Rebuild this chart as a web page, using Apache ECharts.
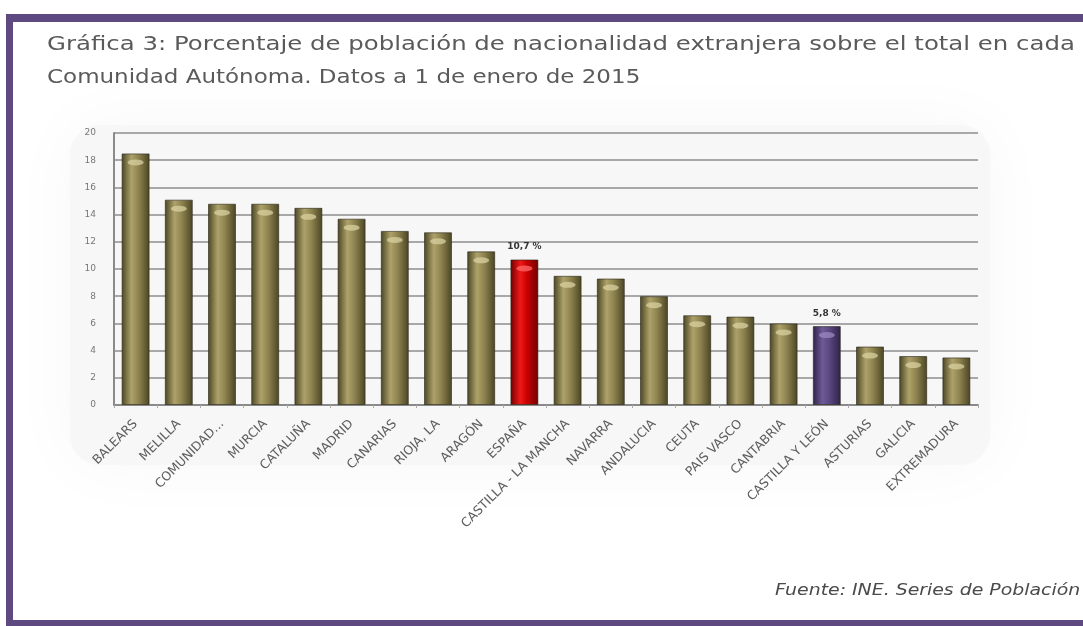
<!DOCTYPE html>
<html>
<head>
<meta charset="utf-8">
<script src="https://cdn.jsdelivr.net/npm/echarts@6/dist/echarts.min.js"></script>
<style>
  html, body { margin: 0; padding: 0; background: #ffffff; }
  #chart { width: 1083px; height: 626px; }
</style>
</head>
<body>
<div id="chart"></div>
<script>
// Foreign-nationality population share by autonomous community, 1 Jan 2015
const categories = [
  'BALEARS', 'MELILLA', 'COMUNIDAD...', 'MURCIA', 'CATALUÑA', 'MADRID',
  'CANARIAS', 'RIOJA, LA', 'ARAGÓN', 'ESPAÑA', 'CASTILLA - LA MANCHA',
  'NAVARRA', 'ANDALUCIA', 'CEUTA', 'PAIS VASCO', 'CANTABRIA',
  'CASTILLA Y LEÓN', 'ASTURIAS', 'GALICIA', 'EXTREMADURA'
];
const values = [18.5, 15.1, 14.8, 14.8, 14.5, 13.7, 12.8, 12.7, 11.3, 10.7,
                9.5, 9.3, 8.0, 6.6, 6.5, 6.0, 5.8, 4.3, 3.6, 3.5];
const yTicks = [0, 2, 4, 6, 8, 10, 12, 14, 16, 18, 20];
const highlighted = { 'ESPAÑA': 'red', 'CASTILLA Y LEÓN': 'purple' };

const titleLine1 = 'Gráfica 3: Porcentaje de población de nacionalidad extranjera sobre el total en cada';
const titleLine2 = 'Comunidad Autónoma. Datos a 1 de enero de 2015';
const sourceNote = 'Fuente: INE. Series de Población';

// cylinder-like horizontal shading for each bar colour
function shade(dark, mid, light) {
  return new echarts.graphic.LinearGradient(0, 0, 1, 0, [
    { offset: 0, color: dark },
    { offset: 0.35, color: light },
    { offset: 0.6, color: mid },
    { offset: 1, color: dark }
  ]);
}
const fills = {
  olive: shade('#4a4424', '#8f8450', '#aea26a'),
  red: shade('#6e0000', '#c80000', '#f01818'),
  purple: shade('#2e2248', '#5a4680', '#6f5a98')
};
const caps = { olive: '#d8d0a0', red: '#ff6a6a', purple: '#9a88c0' };

const barData = categories.map((c, i) => {
  const k = highlighted[c] || 'olive';
  const item = { value: values[i], itemStyle: { color: fills[k] } };
  if (highlighted[c]) {
    item.label = {
      show: true, position: 'top', distance: 8,
      formatter: (p) => p.value.toFixed(1).replace('.', ',') + ' %',
      fontSize: 9, fontWeight: 'bold', color: '#333', fontFamily: 'DejaVu Sans'
    };
  }
  return item;
});
const capData = categories.map((c, i) => ({
  value: values[i],
  itemStyle: { color: caps[highlighted[c] || 'olive'], opacity: 0.75 }
}));

const chart = echarts.init(document.getElementById('chart'), null, { renderer: 'canvas' });
chart.setOption({
  animation: false,
  backgroundColor: '#ffffff',
  graphic: [
    // faint grey haze behind the plot
    { type: 'rect', z: -10, shape: { x: 70, y: 125, width: 920, height: 340, r: 30 },
      style: { fill: '#f7f7f7', shadowBlur: 70, shadowColor: '#f7f7f7' } },
    // purple frame
    { type: 'rect', z: 10, shape: { x: 6, y: 14, width: 1100, height: 8 }, style: { fill: '#5e4a80' } },
    { type: 'rect', z: 10, shape: { x: 6, y: 14, width: 7, height: 612 }, style: { fill: '#5e4a80' } },
    { type: 'rect', z: 10, shape: { x: 6, y: 620, width: 1100, height: 6 }, style: { fill: '#5e4a80' } },
    // heading and source note
    { type: 'text', x: 47, y: 45, scaleX: 1.22, style: {
        text: titleLine1, font: '20px "DejaVu Sans"', fill: '#5a5a5a',
        textAlign: 'left', textVerticalAlign: 'middle' } },
    { type: 'text', x: 47, y: 78, scaleX: 1.15, style: {
        text: titleLine2, font: '20px "DejaVu Sans"', fill: '#5a5a5a',
        textAlign: 'left', textVerticalAlign: 'middle' } },
    { type: 'text', x: 775, y: 591, scaleX: 1.18, style: {
        text: sourceNote, font: 'italic 16px "DejaVu Sans"', fill: '#4a4a4a',
        textAlign: 'left', textVerticalAlign: 'middle' } }
  ],
  grid: { left: 114, right: 105, top: 133, bottom: 221, containLabel: false },
  xAxis: {
    type: 'category',
    data: categories,
    axisLine: { show: true, lineStyle: { color: '#8a8a8a', width: 2 } },
    axisTick: { show: true, length: 3, lineStyle: { color: '#aaaaaa' } },
    axisLabel: {
      interval: 0, rotate: 45, fontSize: 12.5,
      color: '#5e5e5e', fontFamily: 'DejaVu Sans', margin: 17
    }
  },
  yAxis: {
    type: 'value', min: 0, max: 20, interval: 2,
    axisLine: { show: true, lineStyle: { color: '#8a8a8a', width: 2 } },
    axisTick: { show: false },
    axisLabel: {
      fontSize: 9, color: '#777', fontFamily: 'DejaVu Sans', margin: 18,
      customValues: yTicks
    },
    splitLine: { show: true, lineStyle: { color: '#a8a8a8', width: 2 } }
  },
  series: [
    {
      type: 'bar', data: barData, barWidth: 28,
      itemStyle: { borderColor: 'rgba(40,36,20,0.6)', borderWidth: 1 }
    },
    {
      type: 'pictorialBar', data: capData, symbol: 'circle',
      symbolSize: [16, 6], symbolPosition: 'end', symbolOffset: [0, 6],
      barGap: '-100%', z: 5, silent: true
    }
  ]
});
</script>
</body>
</html>
